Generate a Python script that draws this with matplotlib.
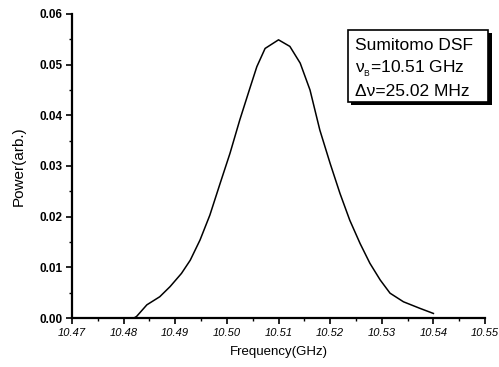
import matplotlib
matplotlib.use("Agg")
import matplotlib.pyplot as plt
from matplotlib.ticker import MultipleLocator
from matplotlib.patches import Rectangle

plt.rcParams['font.family'] = ['Liberation Sans', 'DejaVu Sans']
plt.rcParams['mathtext.default'] = 'regular'

# spectrum
freq = [10.4820, 10.4825, 10.4845, 10.4870, 10.4890, 10.4912, 10.4929, 10.4948,
        10.4967, 10.4987, 10.5006, 10.5025, 10.5045, 10.5058, 10.5074, 10.5100,
        10.5122, 10.5142, 10.5161, 10.5180, 10.5200, 10.5219, 10.5238, 10.5258,
        10.5277, 10.5297, 10.5316, 10.5342, 10.5374, 10.5400]
power = [0.0000, 0.0003, 0.0026, 0.0042, 0.0062, 0.0088, 0.0114, 0.0154,
         0.0203, 0.0266, 0.0325, 0.0391, 0.0455, 0.0496, 0.0532, 0.0549,
         0.0536, 0.0503, 0.0450, 0.0371, 0.0305, 0.0246, 0.0193, 0.0147,
         0.0108, 0.0075, 0.0049, 0.0032, 0.0019, 0.0009]

xticks = [10.47, 10.48, 10.49, 10.50, 10.51, 10.52, 10.53, 10.54, 10.55]
yticks = [0.00, 0.01, 0.02, 0.03, 0.04, 0.05, 0.06]
box_lines = ["Sumitomo DSF", "ν$_{_B}$=10.51 GHz", "Δν=25.02 MHz"]

fig = plt.figure(figsize=(4.99, 3.67), dpi=100)
ax = fig.add_axes([0.1443, 0.1335, 0.8277, 0.8284])
ax.plot(freq, power, color='black', linewidth=1.1)

ax.set_xlim(10.47, 10.55)
ax.set_ylim(0.0, 0.06)
ax.set_xticks(xticks)
ax.set_xticklabels(["%.2f" % v for v in xticks], fontsize=8, style='italic')
ax.set_yticks(yticks)
ax.set_yticklabels(["%.2f" % v for v in yticks], fontsize=8.5, fontweight='bold')
ax.xaxis.set_minor_locator(MultipleLocator(0.005))
ax.yaxis.set_minor_locator(MultipleLocator(0.005))
ax.tick_params(which='major', direction='out', length=4, width=1.2, pad=3)
ax.tick_params(which='minor', direction='out', length=2, width=1.0)
ax.spines['top'].set_visible(False)
ax.spines['right'].set_visible(False)
ax.spines['left'].set_linewidth(1.6)
ax.spines['bottom'].set_linewidth(1.6)

ax.set_xlabel("Frequency(GHz)", fontsize=9.5, labelpad=6)
ax.set_ylabel("Power(arb.)", fontsize=11, labelpad=10)

# annotation box with drop shadow (figure coordinates)
bx, by, bw, bh = 0.6974, 0.7221, 0.2806, 0.1962
fig.patches.append(Rectangle((bx + 0.007, by - 0.009), bw, bh, transform=fig.transFigure,
                             facecolor='black', edgecolor='none', zorder=5))
fig.patches.append(Rectangle((bx, by), bw, bh, transform=fig.transFigure,
                             facecolor='white', edgecolor='black', linewidth=1.2, zorder=6))
for i, line in enumerate(box_lines):
    fig.text(bx + 0.014, 1 - (45 + 23.5 * i) / 367, line, fontsize=12.5,
             va='center', ha='left', zorder=7)

plt.savefig("out.png", dpi=100)
